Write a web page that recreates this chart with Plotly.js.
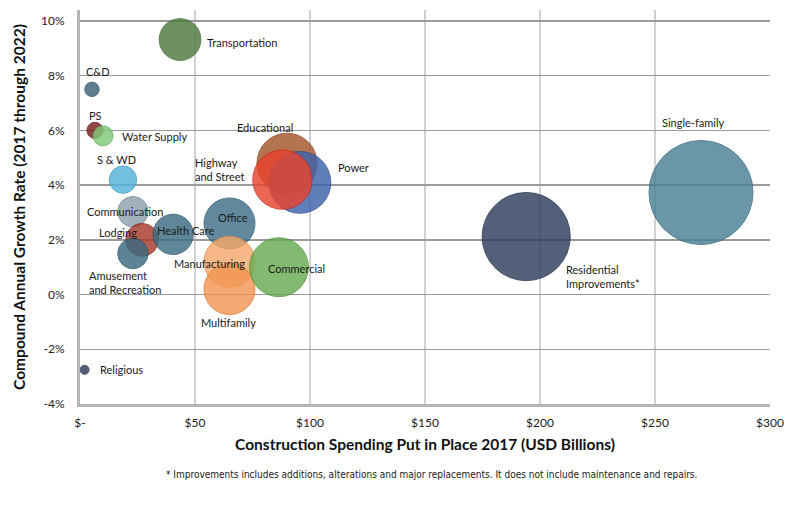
<!DOCTYPE html>
<html>
<head>
<meta charset="utf-8">
<script src="https://cdn.plot.ly/plotly-3.0.1.min.js"></script>
<style>html,body{margin:0;padding:0;background:#fff;}#chart{width:800px;height:508px;}</style>
</head>
<body>
<div id="chart"></div>
<script>
// Data
const sectors = ["Transportation","C&D","PS","Water Supply","S & WD","Communication","Lodging","Amusement and Recreation","Health Care","Office","Manufacturing","Multifamily","Commercial","Educational","Power","Highway and Street","Residential Improvements*","Single-family","Religious"];
const spending2017 = [43.5, 5.2, 6.5, 10, 18.7, 23, 27, 23, 40.5, 65, 65, 65, 86.5, 90, 95.6, 88, 194, 270, 2];
const growthRate = [9.32, 7.5, 6.0, 5.8, 4.2, 3.03, 2.0, 1.5, 2.2, 2.6, 1.2, 0.2, 1.0, 4.8, 4.1, 4.2, 2.12, 3.73, -2.75];
const labelText = ["Transportation","C&D","PS","Water Supply","S & WD","Communication","Lodging","Amusement<br>and Recreation","Health Care","Office","Manufacturing","Multifamily","Commercial","Educational","Power","Highway<br>and Street","Residential<br>Improvements*","Single-family","Religious"];
const xTickVals = [0, 50, 100, 150, 200, 250, 300];
const xTickText = ["$-", "$50", "$100", "$150", "$200", "$250", "$300"];
const yTickVals = [-4, -2, 0, 2, 4, 6, 8, 10];
const yTickText = ["-4%", "-2%", "0%", "2%", "4%", "6%", "8%", "10%"];

// Styles
const fillColors = ["#4f7a40","#3d6277","#7a1e1e","#80c878","#55b2da","#8ea2ae","#a8392a","#3a6a80","#3e6c84","#3f6f88","#f6a86c","#f39552","#68ac52","#a5562a","#3e63ac","#e8442e","#2f3e5c","#4a7f94","#2f3e5c"];
const lineColors = ["#3b6330","#2c4c60","#5e1414","#5fae58","#3a97c0","#6f8591","#86281c","#2a5266","#2c566c","#2d5a72","#e08a4c","#dc7a36","#4e9038","#874020","#2c4d92","#c82c1a","#1d2a44","#336a80","#1d2a44"];
// label placement (same order as sectors): [xanchor, xshift, yshift]
const labelPos = [
  ["left", 25, -3],   // Transportation
  ["center", 6, 18],  // C&D
  ["center", 1, 15],  // PS
  ["left", 17, -1],   // Water Supply
  ["center", -7, 20], // S & WD
  ["center", -8, 0],  // Communication
  ["center", -24, 7], // Lodging
  ["left", -46, -29], // Amusement
  ["center", 13, 4],  // Health Care
  ["center", 3, 6],   // Office
  ["center", -20, -2],// Manufacturing
  ["center", -1, -33],// Multifamily
  ["center", 18, -1], // Commercial
  ["center", -22, 36],// Educational
  ["left", 36, 15],   // Power
  ["right", -35, 10], // Highway
  ["left", 38, -40],  // Residential
  ["center", -8, 70], // Single-family
  ["left", 13, 0]     // Religious
];

const labelFont = {family: "Lato, 'Open Sans', sans-serif", size: 11, color: "#1a1a1a"};

const trace = {
  type: "scatter",
  mode: "markers",
  x: spending2017,
  y: growthRate,
  text: sectors,
  marker: {
    size: spending2017,
    sizemode: "area",
    sizeref: 270 / (2 * 52 * 52),
    color: fillColors,
    opacity: 0.82,
    line: {color: lineColors, width: 1}
  },
  hoverinfo: "text"
};

const annotations = sectors.map((s, i) => ({
  x: spending2017[i], y: growthRate[i], xref: "x", yref: "y",
  text: labelText[i], showarrow: false,
  xanchor: labelPos[i][0], yanchor: "middle", align: "left",
  xshift: labelPos[i][1], yshift: labelPos[i][2],
  font: labelFont
}));
annotations.push({
  xref: "paper", yref: "paper", x: 0.51, y: -0.18, xanchor: "center", yanchor: "middle",
  showarrow: false,
  text: "* Improvements includes additions, alterations and major replacements. It does not include maintenance and repairs.",
  font: {family: "'Liberation Sans Narrow', 'DejaVu Sans Condensed', sans-serif", size: 10, color: "#1a1a1a"}
});

const layout = {
  width: 800, height: 508,
  margin: {l: 80, r: 30, t: 10, b: 104},
  paper_bgcolor: "#fff", plot_bgcolor: "#fff",
  showlegend: false,
  xaxis: {
    range: [0, 300], tickvals: xTickVals, ticktext: xTickText,
    showgrid: true, gridcolor: "#d0d0d0", gridwidth: 2,
    zeroline: false, showline: true, linecolor: "#b5b5b5", linewidth: 3,
    ticks: "outside", ticklen: 6, tickcolor: "rgba(0,0,0,0)",
    tickfont: {family: "Lato, sans-serif", size: 12, color: "#222"},
    title: {text: "Construction Spending Put in Place 2017 (USD Billions)", standoff: 10,
      font: {family: "Lato, sans-serif", size: 15.5, color: "#111", weight: "bold"}}
  },
  yaxis: {
    range: [-4, 10.4], tickvals: yTickVals, ticktext: yTickText,
    showgrid: true, gridcolor: "#9a9a9a", gridwidth: 1.5,
    zeroline: false, showline: true, linecolor: "#b5b5b5", linewidth: 3,
    ticks: "outside", ticklen: 10, tickcolor: "rgba(0,0,0,0)",
    tickfont: {family: "Lato, sans-serif", size: 12, color: "#222"},
    title: {text: "Compound Annual Growth Rate (2017 through 2022)", standoff: 12,
      font: {family: "Lato, sans-serif", size: 15.5, color: "#111", weight: "bold"}}
  },
  annotations: annotations
};

Plotly.newPlot("chart", [trace], layout, {displayModeBar: false, staticPlot: true});
</script>
</body>
</html>
